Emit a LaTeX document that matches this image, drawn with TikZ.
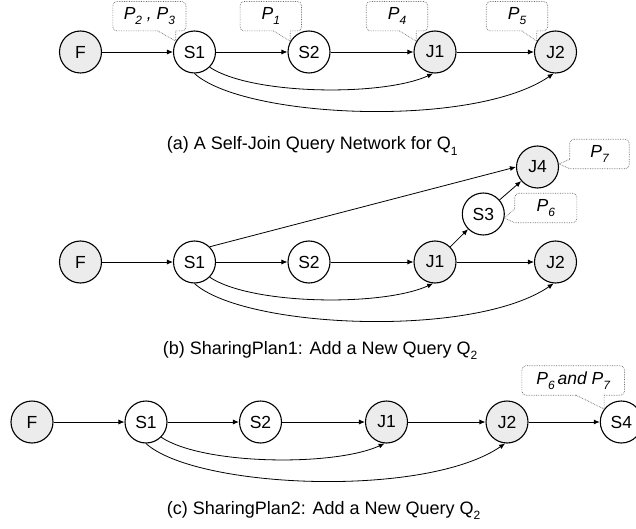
\documentclass[tikz,border=0pt]{standalone}
\usepackage{fontspec}
\setmainfont{Liberation Sans}
\usetikzlibrary{arrows.meta,calc}
\newcommand\mysub[1]{\raisebox{-0.3em}{\fontsize{12}{12}\selectfont #1}}
% callout with tail below the box: #1 box node, #2 tip, #3 base width
\newcommand\codown[3]{%
  \coordinate (#1B) at (#2 |- #1.south);
  \coordinate (#1A) at ($(#1B)+(-#3,0)$);
  \draw[co,rounded corners=4pt] (#1B) -- (#1.south east) -- (#1.north east) -- (#1.north west) -- (#1.south west) -- (#1A);
  \draw[co] (#1A) -- (#2) -- (#1B);}
% callout with tail on the left edge: #1 box node, #2 tip, #3 height of upper tail point above bottom
\newcommand\coleft[3]{%
  \coordinate (#1A) at ($(#1.south west)+(0,-#3)$);
  \draw[co,rounded corners=4pt] (#1.south west) -- (#1.south east) -- (#1.north east) -- (#1.north west) -- (#1A);
  \draw[co] (#1A) -- (#2) -- (#1.south west);}
\begin{document}
\begin{tikzpicture}[x=1pt,y=-1pt,
  nd/.style={circle,draw,line width=1.1pt,minimum size=42pt,inner sep=0pt,fill=white,font=\fontsize{17.5}{17.5}\selectfont},
  gnd/.style={nd,fill=gray!15},
  edge/.style={line width=0.8pt,-{Latex[length=6pt,width=5pt]}},
  co/.style={densely dotted,line width=0.7pt,draw=gray!85!black},
  cobox/.style={rectangle,inner sep=0pt,minimum height=29pt,font=\fontsize{17.5}{17.5}\selectfont\itshape},
  captxt/.style={anchor=base west,inner sep=0pt,font=\fontsize{18}{18}\selectfont}]
\useasboundingbox (0,0) rectangle (636,529);

% ---------- (a) ----------
\node[gnd] (aF)  at (80.5,52) {F};
\node[nd]  (aS1) at (194.5,52) {S1};
\node[nd]  (aS2) at (309,52) {S2};
\node[gnd] (aJ1) at (435,52) {J1};
\node[gnd] (aJ2) at (555.5,52) {J2};
\draw[edge] (aF) -- (aS1);
\draw[edge] (aS1) -- (aS2);
\draw[edge] (aS2) -- (aJ1);
\draw[edge] (aJ1) -- (aJ2);
\draw[edge] (aS1.-45) .. controls +(42,28) and +(-50,23) .. (aJ1.-95);
\draw[edge] (aS1.-90) .. controls +(50,45) and +(-80,55) .. (aJ2.-95);

\node[cobox,minimum width=72.7pt] (ca1) at (149.4,16.2) {P\mysub{2} , P\mysub{3}};
\node[cobox,minimum width=61pt] (ca2) at (270.8,16.2) {P\mysub{1}};
\node[cobox,minimum width=61pt] (ca3) at (397,16.2) {P\mysub{4}};
\node[cobox,minimum width=61pt] (ca4) at (517,16.2) {P\mysub{5}};
\codown{ca1}{aS1.150}{18}
\codown{ca2}{aS2.150}{17}
\codown{ca3}{aJ1.150}{17}
\codown{ca4}{aJ2.150}{15}

\node[captxt] (capa) at (166.7,150) {(a) A Self-Join Query Network for Q\mysub{1}};

% ---------- (b) ----------
\node[gnd] (bF)  at (80.5,262) {F};
\node[nd]  (bS1) at (194.5,262) {S1};
\node[nd]  (bS2) at (309,262) {S2};
\node[gnd] (bJ1) at (435,262) {J1};
\node[gnd] (bJ2) at (555.5,262) {J2};
\node[nd]  (bS3) at (483.3,214) {S3};
\node[gnd] (bJ4) at (537.5,167) {J4};
\draw[edge] (bF) -- (bS1);
\draw[edge] (bS1) -- (bS2);
\draw[edge] (bS2) -- (bJ1);
\draw[edge] (bJ1) -- (bJ2);
\draw[edge] (bJ1) -- (bS3);
\draw[edge] (bS3) -- (bJ4);
\draw[edge] (bS1.45) -- (bJ4.180);
\draw[edge] (bS1.-45) .. controls +(42,28) and +(-50,23) .. (bJ1.-95);
\draw[edge] (bS1.-90) .. controls +(50,45) and +(-80,55) .. (bJ2.-95);

\node[cobox,minimum width=59pt] (cb1) at (599.5,154) {P\mysub{7}};
\node[cobox,minimum width=61.7pt] (cb2) at (545.8,208) {P\mysub{6}};
\coleft{cb1}{bJ4.8}{9.5}
\coleft{cb2}{bS3.-11}{14}

\node[captxt] (capb) at (162.7,354) {(b) SharingPlan1: Add a New Query Q\mysub{2}};

% ---------- (c) ----------
\node[gnd] (cF)  at (32,422) {F};
\node[nd]  (cS1) at (146,422) {S1};
\node[nd]  (cS2) at (260.5,422) {S2};
\node[gnd] (cJ1) at (386.5,422) {J1};
\node[gnd] (cJ2) at (507,422) {J2};
\node[nd]  (cS4) at (621.3,422) {S4};
\draw[edge] (cF) -- (cS1);
\draw[edge] (cS1) -- (cS2);
\draw[edge] (cS2) -- (cJ1);
\draw[edge] (cJ1) -- (cJ2);
\draw[edge] (cJ2) -- (cS4);
\draw[edge] (cS1.-45) .. controls +(42,28) and +(-50,23) .. (cJ1.-95);
\draw[edge] (cS1.-90) .. controls +(50,45) and +(-80,55) .. (cJ2.-95);

\node[cobox,minimum width=102.3pt] (cc1) at (573.2,380.5) {P\mysub{6}\,and P\mysub{7}};
\codown{cc1}{cS4.143}{28}

\node[captxt] (capc) at (166.7,514) {(c) SharingPlan2: Add a New Query Q\mysub{2}};
\end{tikzpicture}
\end{document}
